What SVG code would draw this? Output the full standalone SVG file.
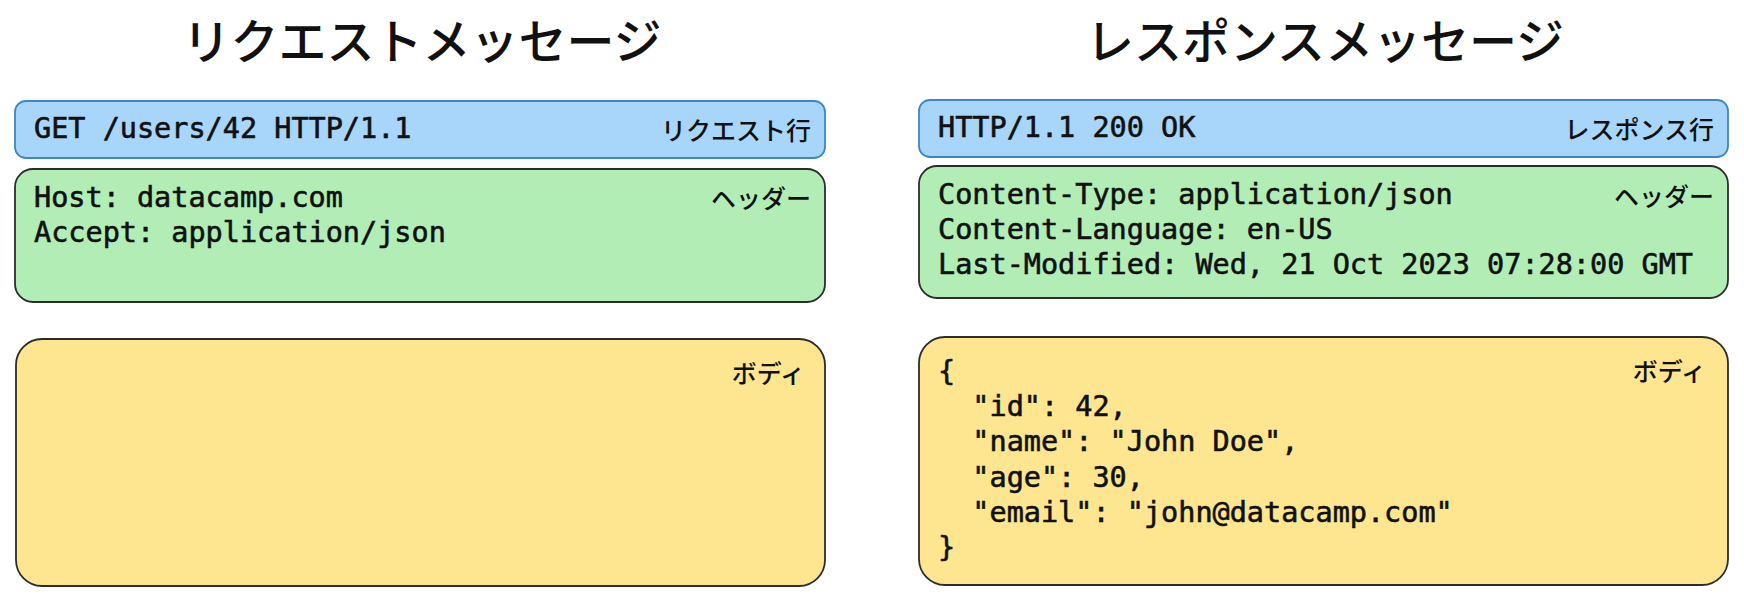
<svg xmlns="http://www.w3.org/2000/svg" width="1744" height="608" viewBox="0 0 1744 608">
  <style>
    .title { font-family: "Noto Sans CJK JP", "Noto Sans", sans-serif; font-size: 48px; font-weight: 500; fill: #111; text-anchor: middle; }
    .code { font-family: "DejaVu Sans Mono", "Liberation Mono", monospace; font-size: 28.5px; font-weight: normal; fill: #111; stroke: #111; stroke-width: 0.6; white-space: pre; }
    .lbl { font-family: "Noto Sans CJK JP", "Noto Sans", sans-serif; font-size: 25px; font-weight: 500; fill: #111; text-anchor: end; }
    .blue { fill: #a8d5fa; stroke: #3f86c8; stroke-width: 1.8; }
    .green { fill: #b2edb6; stroke: #2c2c2c; stroke-width: 1.8; }
    .yellow { fill: #fde68f; stroke: #2c2c2c; stroke-width: 1.8; }
  </style>
  <rect width="1744" height="608" fill="#ffffff"/>

  <g id="request">
    <text class="title" x="422" y="59">リクエストメッセージ</text>
    <g id="req-line">
      <rect class="blue" x="15" y="101" width="810" height="57" rx="11"/>
      <text class="code" x="34" y="138">GET /users/42 HTTP/1.1</text>
      <text class="lbl" x="811" y="140">リクエスト行</text>
    </g>
    <g id="req-headers">
      <rect class="green" x="15" y="169" width="810" height="133" rx="18"/>
      <text class="code" x="34" y="207">Host: datacamp.com</text>
      <text class="code" x="34" y="242">Accept: application/json</text>
      <text class="lbl" x="811" y="208">ヘッダー</text>
    </g>
    <g id="req-body">
      <rect class="yellow" x="16" y="339" width="809" height="247" rx="26"/>
      <text class="lbl" x="805" y="383">ボディ</text>
    </g>
  </g>

  <g id="response">
    <text class="title" x="1325" y="59">レスポンスメッセージ</text>
    <g id="res-line">
      <rect class="blue" x="919" y="100" width="809" height="57" rx="11"/>
      <text class="code" x="938" y="137">HTTP/1.1 200 OK</text>
      <text class="lbl" x="1714" y="139">レスポンス行</text>
    </g>
    <g id="res-headers">
      <rect class="green" x="919" y="166" width="809" height="132" rx="18"/>
      <text class="code" x="938" y="204">Content-Type: application/json</text>
      <text class="code" x="938" y="239">Content-Language: en-US</text>
      <text class="code" x="938" y="274">Last-Modified: Wed, 21 Oct 2023 07:28:00 GMT</text>
      <text class="lbl" x="1714" y="206">ヘッダー</text>
    </g>
    <g id="res-body">
      <rect class="yellow" x="919" y="337" width="809" height="248" rx="26"/>
      <text class="code" x="938" y="381">{</text>
      <text class="code" x="938" y="416">  "id": 42,</text>
      <text class="code" x="938" y="451">  "name": "John Doe",</text>
      <text class="code" x="938" y="487">  "age": 30,</text>
      <text class="code" x="938" y="522">  "email": "john@datacamp.com"</text>
      <text class="code" x="938" y="557">}</text>
      <text class="lbl" x="1706" y="381">ボディ</text>
    </g>
  </g>
  <g id="connectors"/>
</svg>
